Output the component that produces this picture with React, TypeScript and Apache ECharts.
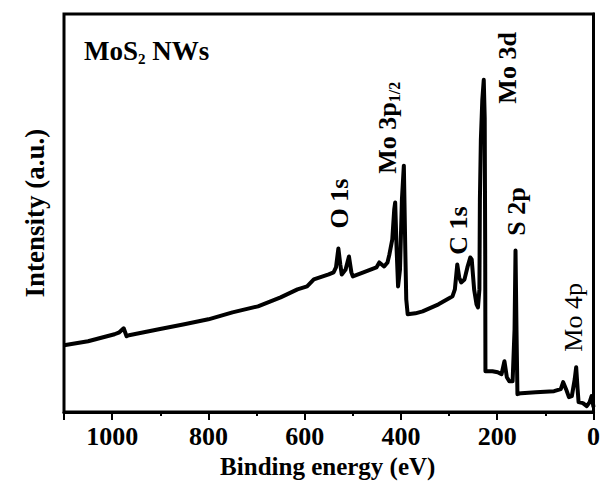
import React, { useEffect, useRef } from "react";
import * as echarts from "echarts";

// Binding energy (eV), high to low
const energies = [
  1100, 1050, 995, 985, 976, 970, 965, 903, 850, 800,
  750, 697, 650, 615, 595, 581, 550, 540, 535, 530,
  526, 523, 515, 508, 503, 500, 478, 451, 445, 440,
  435, 428, 424, 418, 414, 412, 409, 406, 402, 398,
  394, 391, 389, 386, 370, 355, 322, 300, 293, 288,
  283, 279, 275, 268, 262, 256, 253, 248, 243, 240,
  237, 236, 234, 231, 228, 226, 225, 224.5, 220, 210,
  199, 191, 185, 180, 175, 168, 164, 162, 160, 158,
  150, 120, 82, 68, 63, 57, 51, 45, 39, 36,
  33, 31, 22, 14, 8, 4, 1, 0,
];
// Intensity (a.u.)
const intensities = [
  67, 71, 78, 80, 84, 76, 77, 83, 88, 93,
  100, 106, 115, 123, 126, 133, 138, 140, 145, 164,
  148, 138, 143, 156, 140, 136, 140, 145, 150, 148,
  146, 150, 158, 173, 203, 210, 163, 126, 143, 213,
  247, 163, 113, 98, 99, 101, 108, 114, 116, 123,
  148, 135, 130, 133, 145, 155, 153, 123, 108, 105,
  123, 213, 273, 313, 333, 295, 163, 41, 41, 41,
  40, 38, 51, 35, 31, 31, 83, 162, 83, 18,
  19, 20, 21, 23, 30, 23, 15, 16, 33, 45,
  23, 10, 9, 6, 10, 16, 8, 5,
];

// Peak annotations
const peakTexts = ["O 1s", "{m|Mo 3p}{s|1/2}", "C 1s", "Mo 3d", "S 2p", "Mo 4p"];
const peakAnchorE = [527, 427, 281, 178, 160, 41];
const peakAnchorI = [209, 285, 182, 345, 201, 95];
const peakBold = [true, true, true, true, true, false];

const xTickLabels = [0, 200, 400, 600, 800, 1000];

const FONT = '"Liberation Serif", "Times New Roman", serif';

export default function App() {
  const ref = useRef<HTMLDivElement>(null);

  useEffect(() => {
    document.body.style.margin = "0";
    if (!ref.current) return;
    const chart = echarts.init(ref.current, undefined, { renderer: "svg" });
    const data = energies.map((e, i) => [e, intensities[i]]);
    const markData = peakTexts.map((t, i) => ({
      coord: [peakAnchorE[i], peakAnchorI[i]],
      symbol: "circle",
      symbolSize: 1,
      itemStyle: { color: "rgba(0,0,0,0)" },
      label: {
        show: true,
        position: "inside",
        rotate: 90,
        formatter: () => t,
        color: "#000",
        fontFamily: FONT,
        fontSize: 26,
        fontWeight: peakBold[i] ? "bold" : "normal",
        rich: {
          m: { fontFamily: FONT, fontSize: 26, fontWeight: "bold", color: "#000", lineHeight: 30 },
          s: { fontFamily: FONT, fontSize: 16, fontWeight: "bold", color: "#000", lineHeight: 4, verticalAlign: "bottom" },
        },
      },
    }));

    chart.setOption({
      animation: false,
      backgroundColor: "#fff",
      title: {
        text: "{a|MoS}{b|2}{a| NWs}",
        left: 79,
        top: 31,
        textStyle: {
          rich: {
            a: { fontFamily: FONT, fontSize: 27, fontWeight: "bold", color: "#000", lineHeight: 30 },
            b: { fontFamily: FONT, fontSize: 15, fontWeight: "bold", color: "#000", lineHeight: 7, verticalAlign: "bottom" },
          },
        },
      },
      grid: {
        left: 64,
        right: 3,
        top: 14,
        bottom: 71,
        show: true,
        borderColor: "#000",
        borderWidth: 3,
        backgroundColor: "transparent",
      },
      xAxis: [
        {
          type: "value",
          inverse: true,
          min: 0,
          max: 1100,
          interval: 200,
          name: "Binding energy (eV)",
          nameLocation: "middle",
          nameGap: 41,
          nameTextStyle: {
            fontFamily: FONT,
            fontSize: 25,
            fontWeight: "bold",
            color: "#000",
            padding: [0, 2, 0, 0],
          },
          axisLine: { show: true, lineStyle: { color: "#000", width: 3 } },
          axisTick: { show: true, length: 8, lineStyle: { color: "#000", width: 2 } },
          axisLabel: {
            show: true,
            margin: 11,
            fontFamily: FONT,
            fontSize: 26,
            fontWeight: "bold",
            color: "#000",
            formatter: (v: number) => (xTickLabels.includes(v) ? String(v) : ""),
          },
          splitLine: { show: false },
        },
        {
          type: "value",
          inverse: true,
          position: "bottom",
          min: 0,
          max: 1100,
          interval: 100,
          axisLine: { show: false },
          axisTick: { show: true, length: 4, lineStyle: { color: "#000", width: 2 } },
          axisLabel: { show: false },
          splitLine: { show: false },
        },
      ],
      yAxis: {
        type: "value",
        min: 0,
        max: 399,
        name: "Intensity (a.u.)",
        nameLocation: "middle",
        nameGap: 16,
        nameTextStyle: {
          fontFamily: FONT,
          fontSize: 27,
          fontWeight: "bold",
          color: "#000",
        },
        axisLine: { show: true, lineStyle: { color: "#000", width: 3 } },
        axisTick: { show: false },
        axisLabel: { show: false },
        splitLine: { show: false },
      },
      series: [
        {
          type: "line",
          xAxisIndex: 0,
          data,
          showSymbol: false,
          symbol: "none",
          lineStyle: { color: "#000", width: 4, join: "round" },
          markPoint: { data: markData, animation: false },
          z: 3,
        },
      ],
    });
    return () => chart.dispose();
  }, []);

  return <div ref={ref} style={{ width: 603, height: 484 }} />;
}
